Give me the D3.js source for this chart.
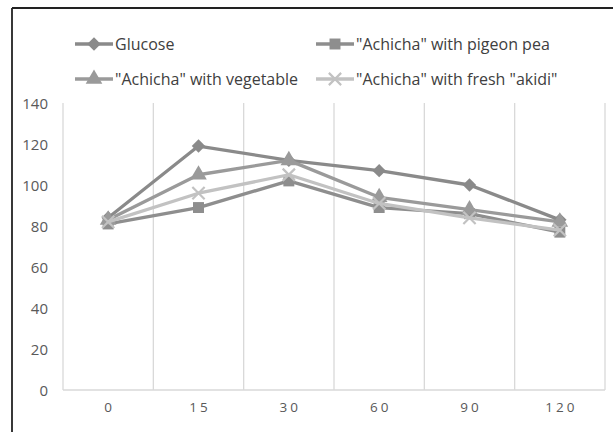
<!DOCTYPE html>
<html>
<head>
<meta charset="utf-8">
<script src="https://cdn.jsdelivr.net/npm/d3@7"></script>
<style>
  html, body { margin: 0; padding: 0; background: #fff; }
  svg { display: block; }
  text { font-family: "Open Sans", "Noto Sans", sans-serif; }
</style>
</head>
<body>
<svg id="chart" width="613" height="432"></svg>
<script>
// Time points (minutes) and blood glucose readings per test meal
const categories = ["0", "15", "30", "60", "90", "120"];
const glucose    = [84, 119, 112, 107, 100, 83];
const pigeonPea  = [81, 89, 102, 89, 86, 77];
const vegetable  = [83, 105, 112, 94, 88, 82];
const akidi      = [82, 96, 105, 91, 84, 78];
const yTicks     = [0, 20, 40, 60, 80, 100, 120, 140];

const seriesNames = ["Glucose", "\"Achicha\" with pigeon pea", "\"Achicha\" with vegetable", "\"Achicha\" with fresh \"akidi\""];
const seriesValues = [glucose, pigeonPea, vegetable, akidi];
const seriesColors = ["#8a8a8a", "#8e8e8e", "#9a9a9a", "#c2c2c2"];
const seriesSymbols = [d3.symbolDiamond2, d3.symbolSquare, d3.symbolTriangle, d3.symbolX];
const symbolSizes = [115, 120, 120, 100];

const svg = d3.select("#chart");

// outer frame (top and left edges)
svg.append("line").attr("x1", 12).attr("x2", 613).attr("y1", 8).attr("y2", 8)
  .attr("stroke", "#222").attr("stroke-width", 1.8);
svg.append("line").attr("x1", 12).attr("x2", 12).attr("y1", 8).attr("y2", 432)
  .attr("stroke", "#222").attr("stroke-width", 1.8);

const x = d3.scaleBand().domain(categories).range([63, 605]);
const y = d3.scaleLinear().domain([0, 140]).range([390, 103]);

// vertical gridlines at category boundaries
const bounds = categories.map(c => x(c)).concat([x.range()[1]]);
svg.append("g").selectAll("line").data(bounds).join("line")
  .attr("x1", d => d).attr("x2", d => d)
  .attr("y1", y(140)).attr("y2", y(0))
  .attr("stroke", "#d9d9d9").attr("stroke-width", 1.3);

// baseline
svg.append("line").attr("x1", x.range()[0]).attr("x2", x.range()[1])
  .attr("y1", y(0)).attr("y2", y(0))
  .attr("stroke", "#d9d9d9").attr("stroke-width", 1.3);

// y axis labels
const yAxis = d3.axisLeft(y).tickValues(yTicks).tickSize(0).tickPadding(0);
const gy = svg.append("g").attr("transform", "translate(48,1)").call(yAxis);
gy.select(".domain").remove();
gy.selectAll("text").attr("fill", "#595959").style("font-size", "15px")
  .style("font-family", "\"Open Sans\", sans-serif");

// x axis labels
const xAxis = d3.axisBottom(x).tickSize(0).tickPadding(0);
const gx = svg.append("g").attr("transform", "translate(0,402)").call(xAxis);
gx.select(".domain").remove();
gx.selectAll("text").attr("fill", "#595959").style("font-size", "13.5px")
  .style("letter-spacing", "3px")
  .style("font-family", "\"Open Sans\", sans-serif")
  .attr("dx", "1.5px");

const cx = c => x(c) + x.bandwidth() / 2;
const line = d3.line().x((d, i) => cx(categories[i])).y(d => y(d));

// series lines and markers
seriesValues.forEach((vals, s) => {
  const g = svg.append("g");
  g.append("path").datum(vals).attr("d", line)
    .attr("fill", "none").attr("stroke", seriesColors[s])
    .attr("stroke-width", 3.3).attr("stroke-linejoin", "round");
  const sym = d3.symbol().type(seriesSymbols[s]).size(symbolSizes[s]);
  g.selectAll("path.m").data(vals).join("path").attr("class", "m")
    .attr("d", sym)
    .attr("transform", (d, i) => `translate(${cx(categories[i])},${y(d)})`)
    .attr("fill", seriesColors[s])
    .attr("stroke", seriesColors[s])
    .attr("stroke-width", seriesSymbols[s] === d3.symbolX ? 2.2 : 0);
});

// legend
const legendPos = [[75, 44], [316, 44], [75, 79], [316, 79]];
seriesNames.forEach((name, s) => {
  const [lx, ly] = legendPos[s];
  const g = svg.append("g").attr("transform", `translate(${lx},${ly})`);
  g.append("line").attr("x1", 0).attr("x2", 38).attr("y1", 0).attr("y2", 0)
    .attr("stroke", seriesColors[s]).attr("stroke-width", 3.3);
  g.append("path").attr("d", d3.symbol().type(seriesSymbols[s]).size(symbolSizes[s])())
    .attr("transform", "translate(19,0)")
    .attr("fill", seriesColors[s]).attr("stroke", seriesColors[s])
    .attr("stroke-width", seriesSymbols[s] === d3.symbolX ? 2.2 : 0);
  g.append("text").attr("x", 40).attr("y", 0).attr("dy", "0.36em")
    .attr("fill", "#404040").style("font-size", "16px").text(name);
});
</script>
</body>
</html>
